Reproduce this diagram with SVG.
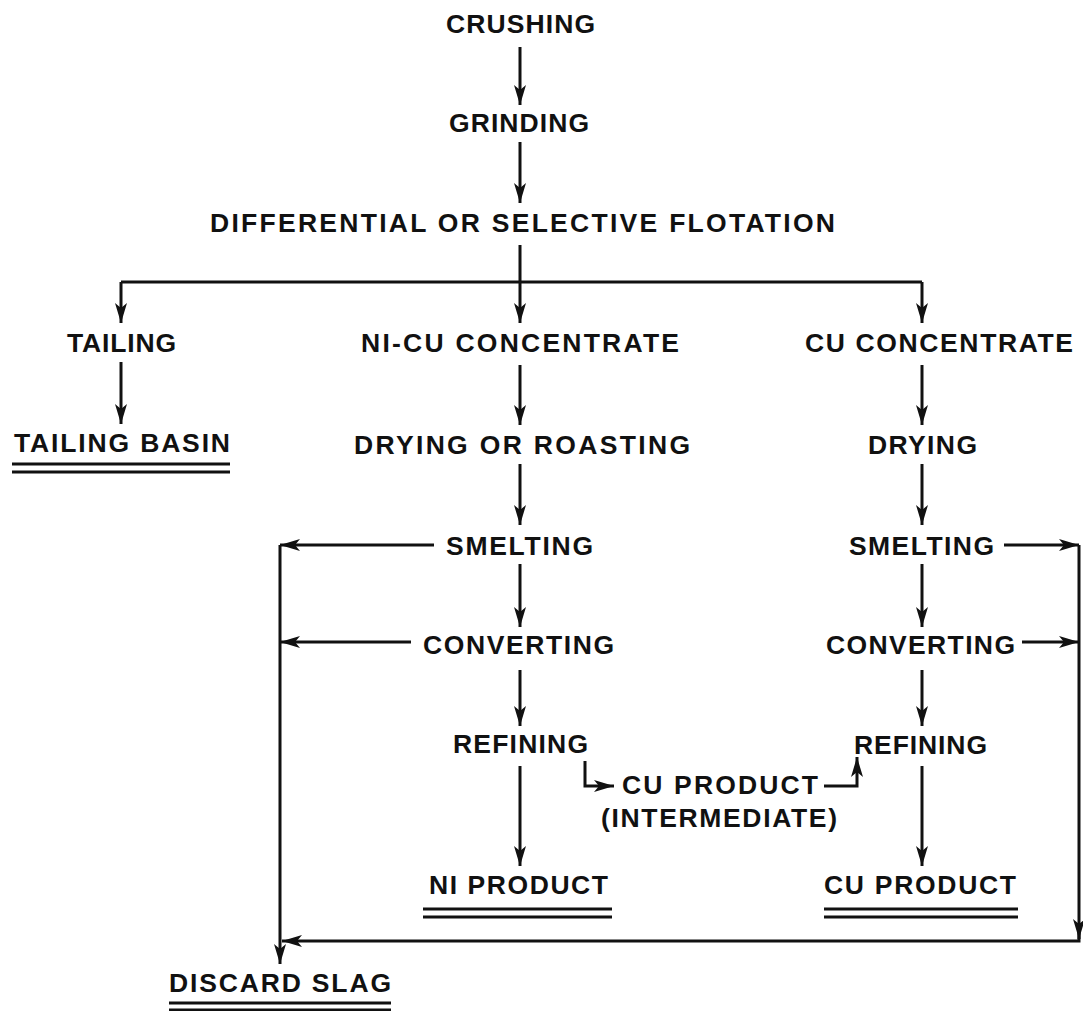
<svg xmlns="http://www.w3.org/2000/svg" width="1083" height="1011" viewBox="0 0 1083 1011">
<defs>
<style>
.t{font-family:"Liberation Sans",Arial,sans-serif;font-size:26.5px;font-weight:bold;fill:#111;}
.c{fill:none;stroke:#111;stroke-width:3;}
.a{marker-end:url(#ah);}
.u{stroke:#111;stroke-width:3.2;}
</style>
<marker id="ah" viewBox="0 0 20 12" refX="20" refY="6" markerWidth="20" markerHeight="12" markerUnits="userSpaceOnUse" orient="auto">
<path d="M0,0 L20,6 L0,12 L5,6 z" fill="#111"/>
</marker>
</defs>
<rect width="1083" height="1011" fill="#fff"/>
<g id="connectors">
<line class="c a" x1="520" y1="47" x2="520" y2="105"/>
<line class="c a" x1="520" y1="142" x2="520" y2="203"/>
<path class="c" d="M520,245 V282 M121,282 H922"/>
<line class="c a" x1="121" y1="282" x2="121" y2="323"/>
<line class="c a" x1="520" y1="282" x2="520" y2="323"/>
<line class="c a" x1="922" y1="282" x2="922" y2="323"/>
<line class="c a" x1="121" y1="362" x2="121" y2="424"/>
<line class="c a" x1="520" y1="365" x2="520" y2="425"/>
<line class="c a" x1="520" y1="464" x2="520" y2="525"/>
<line class="c a" x1="520" y1="564" x2="520" y2="627"/>
<line class="c a" x1="520" y1="670" x2="520" y2="726"/>
<line class="c a" x1="520" y1="766" x2="520" y2="866"/>
<line class="c a" x1="922" y1="365" x2="922" y2="425"/>
<line class="c a" x1="922" y1="464" x2="922" y2="525"/>
<line class="c a" x1="922" y1="564" x2="922" y2="627"/>
<line class="c a" x1="922" y1="670" x2="922" y2="726"/>
<line class="c a" x1="922" y1="766" x2="922" y2="866"/>
<line class="c a" x1="434" y1="545" x2="280" y2="545"/>
<line class="c a" x1="411" y1="642" x2="280" y2="642"/>
<line class="c a" x1="280" y1="545" x2="280" y2="964"/>
<line class="c a" x1="1004" y1="545" x2="1079" y2="545"/>
<line class="c a" x1="1022" y1="642" x2="1079" y2="642"/>
<line class="c a" x1="1079" y1="545" x2="1079" y2="939"/>
<path class="c" d="M1079,930 V941 H300"/>
<line class="c a" x1="300" y1="941" x2="282" y2="941"/>
<path class="c a" d="M585,761 V786 H614"/>
<path class="c a" d="M824,786 H857 V757"/>
</g>
<g id="crushing"><text class="t" x="446" y="33" textLength="149" lengthAdjust="spacing">CRUSHING</text></g>
<g id="grinding"><text class="t" x="449" y="132" textLength="140" lengthAdjust="spacing">GRINDING</text></g>
<g id="flotation"><text class="t" x="210" y="232" textLength="625" lengthAdjust="spacing">DIFFERENTIAL  OR  SELECTIVE  FLOTATION</text></g>
<g id="tailing"><text class="t" x="67" y="352" textLength="109" lengthAdjust="spacing">TAILING</text></g>
<g id="nicu-concentrate"><text class="t" x="361" y="352" textLength="318" lengthAdjust="spacing">NI-CU  CONCENTRATE</text></g>
<g id="cu-concentrate"><text class="t" x="805" y="352" textLength="268" lengthAdjust="spacing">CU  CONCENTRATE</text></g>
<g id="tailing-basin"><text class="t" x="14" y="452" textLength="216" lengthAdjust="spacing">TAILING  BASIN</text>
<line class="u" x1="12" y1="464" x2="230" y2="464"/><line class="u" x1="12" y1="472" x2="230" y2="472"/></g>
<g id="drying-roasting"><text class="t" x="354" y="454" textLength="336" lengthAdjust="spacing">DRYING  OR  ROASTING</text></g>
<g id="drying"><text class="t" x="868" y="454" textLength="109" lengthAdjust="spacing">DRYING</text></g>
<g id="smelting-ni"><text class="t" x="446" y="555" textLength="147" lengthAdjust="spacing">SMELTING</text></g>
<g id="smelting-cu"><text class="t" x="849" y="555" textLength="145" lengthAdjust="spacing">SMELTING</text></g>
<g id="converting-ni"><text class="t" x="423" y="654" textLength="191" lengthAdjust="spacing">CONVERTING</text></g>
<g id="converting-cu"><text class="t" x="826" y="654" textLength="189" lengthAdjust="spacing">CONVERTING</text></g>
<g id="refining-ni"><text class="t" x="453" y="753" textLength="135" lengthAdjust="spacing">REFINING</text></g>
<g id="refining-cu"><text class="t" x="854" y="754" textLength="133" lengthAdjust="spacing">REFINING</text></g>
<g id="cu-intermediate"><text class="t" x="622" y="794" textLength="196" lengthAdjust="spacing">CU  PRODUCT</text>
<text class="t" x="601" y="827" textLength="236" lengthAdjust="spacing">(INTERMEDIATE)</text></g>
<g id="ni-product"><text class="t" x="429" y="894" textLength="179" lengthAdjust="spacing">NI  PRODUCT</text>
<line class="u" x1="423" y1="909" x2="612" y2="909"/><line class="u" x1="423" y1="917" x2="612" y2="917"/></g>
<g id="cu-product"><text class="t" x="824" y="894" textLength="192" lengthAdjust="spacing">CU  PRODUCT</text>
<line class="u" x1="824" y1="909" x2="1018" y2="909"/><line class="u" x1="824" y1="917" x2="1018" y2="917"/></g>
<g id="discard-slag"><text class="t" x="169" y="992" textLength="222" lengthAdjust="spacing">DISCARD  SLAG</text>
<line class="u" x1="169" y1="1003" x2="391" y2="1003"/><line class="u" x1="169" y1="1010" x2="391" y2="1010"/></g>
</svg>
